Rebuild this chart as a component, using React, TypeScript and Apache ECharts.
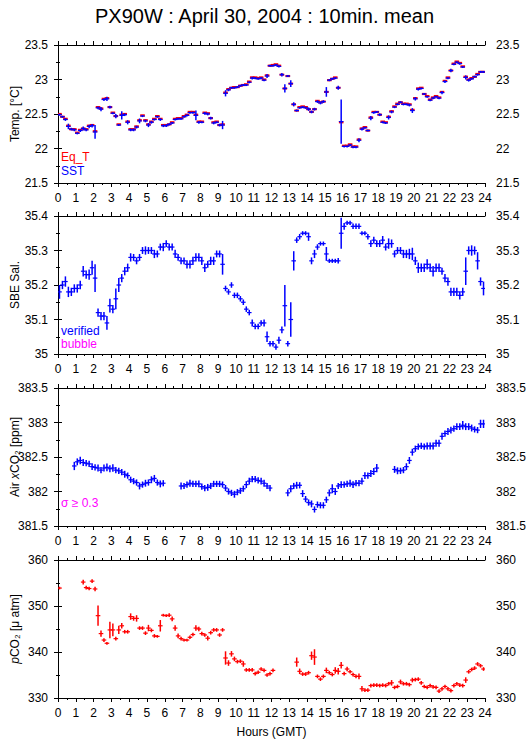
import React, { useEffect, useRef } from 'react';
import * as echarts from 'echarts';

const TITLE = 'PX90W : April 30, 2004 : 10min. mean';

// 10-minute means, index i covers hour i/6 .. (i+1)/6
const sst = [
  22.49, 22.46, 22.42, 22.32, 22.28, 22.27, 22.22, 22.26, 22.29, 22.27, 22.32, 22.33,
  22.24, 22.59, 22.57, 22.71, 22.72, 22.60, 22.51, 22.47, 22.34, 22.48, 22.49, 22.38,
  22.27, 22.27, 22.31, 22.40, 22.47, 22.40, 22.34, 22.38, 22.42, 22.46, 22.42, 22.33,
  22.33, 22.35, 22.37, 22.42, 22.43, 22.43, 22.46, 22.48, 22.52, 22.52, 22.48, 22.38,
  22.38, 22.51, 22.50, 22.44, 22.37, 22.38, 22.34, 22.34, 22.80, 22.85, 22.88, 22.88,
  22.89, 22.91, 22.92, 22.92, 22.96, 23.02, 23.02, 23.01, 23.02, 22.99, 23.05,
  23.20, 23.20, 23.21, 23.19, 23.07, 22.87, 23.05, 22.94, 22.64, 22.55, 22.59, 22.60,
  22.59, 22.57, 22.53, 22.57, 22.68, 22.66, 22.68, 22.82, 22.99, 23.01, 23.02, 22.88,
  22.39, 22.03, 22.03, 22.05, 22.02, 22.02, 22.12, 22.28, 22.30, 22.26, 22.44, 22.52,
  22.53, 22.49, 22.38, 22.37, 22.45, 22.53, 22.60, 22.64, 22.67, 22.64, 22.64, 22.63,
  22.55, 22.72, 22.86, 22.87, 22.79, 22.75, 22.70, 22.73, 22.75, 22.73, 22.81, 22.97,
  23.02, 23.13, 23.22, 23.25, 23.23, 23.18, 23.03, 22.99, 23.01, 23.04, 23.07, 23.11, 23.11,
];
const sstSd = [
  0.015, 0.015, 0.02, 0.04, 0.02, 0.02, 0.015, 0.02, 0.03, 0.02, 0.025, 0.025,
  0.1, 0.02, 0.03, 0.02, 0.03, 0.02, 0.015, 0.03, 0.015, 0.06, 0.02, 0.03,
  0.02, 0.02, 0.02, 0.035, 0.015, 0.02, 0.03, 0.02, 0.015, 0.015, 0.02, 0.02,
  0.02, 0.015, 0.015, 0.015, 0.015, 0.015, 0.015, 0.015, 0.015, 0.015, 0.07, 0.02,
  0.015, 0.02, 0.02, 0.02, 0.02, 0.015, 0.02, 0.06, 0.045, 0.02, 0.015, 0.015,
  0.015, 0.015, 0.015, 0.015, 0.015, 0.02, 0.015, 0.015, 0.015, 0.015, 0.03,
  0.015, 0.015, 0.015, 0.015, 0.025, 0.06, 0.015, 0.05, 0.03, 0.015, 0.015, 0.015,
  0.015, 0.025, 0.02, 0.02, 0.02, 0.02, 0.02, 0.07, 0.015, 0.015, 0.015, 0.03,
  0.32, 0.015, 0.015, 0.015, 0.015, 0.015, 0.03, 0.02, 0.015, 0.015, 0.03, 0.015,
  0.015, 0.02, 0.015, 0.015, 0.03, 0.02, 0.015, 0.015, 0.015, 0.015, 0.015, 0.02,
  0.035, 0.025, 0.02, 0.015, 0.015, 0.015, 0.015, 0.015, 0.015, 0.015, 0.025, 0.02,
  0.015, 0.025, 0.015, 0.015, 0.015, 0.015, 0.03, 0.02, 0.015, 0.015, 0.015, 0.015, 0.015,
];
const eqT = [
  22.50, 22.46, 22.43, 22.33, 22.28, 22.28, 22.23, 22.27, 22.29, 22.28, 22.33, 22.34,
  22.25, 22.60, 22.58, 22.72, 22.73, 22.60, 22.52, 22.47, 22.35, 22.49, 22.50, 22.39,
  22.28, 22.28, 22.32, 22.41, 22.48, 22.41, 22.35, 22.39, 22.43, 22.47, 22.43, 22.34,
  22.34, 22.35, 22.38, 22.43, 22.44, 22.44, 22.47, 22.49, 22.53, 22.53, 22.49, 22.39,
  22.39, 22.52, 22.51, 22.44, 22.38, 22.39, 22.34, 22.35, 22.81, 22.86, 22.88, 22.89,
  22.89, 22.91, 22.92, 22.93, 22.97, 23.03, 23.03, 23.02, 23.03, 23.00, 23.06,
  23.20, 23.21, 23.22, 23.20, 23.07, 22.87, 23.05, 22.94, 22.64, 22.55, 22.60, 22.61,
  22.60, 22.57, 22.53, 22.57, 22.69, 22.67, 22.68, 22.82, 22.99, 23.01, 23.03, 22.88,
  22.38, 22.04, 22.04, 22.06, 22.03, 22.03, 22.13, 22.29, 22.31, 22.26, 22.45, 22.53,
  22.53, 22.49, 22.39, 22.38, 22.46, 22.54, 22.61, 22.65, 22.67, 22.65, 22.65, 22.64,
  22.56, 22.73, 22.87, 22.88, 22.79, 22.76, 22.71, 22.74, 22.76, 22.74, 22.82, 22.98,
  23.03, 23.13, 23.23, 23.26, 23.24, 23.19, 23.04, 23.00, 23.02, 23.04, 23.08, 23.11, 23.11,
];

const salinity = [
  35.18, 35.20, 35.21, 35.18, 35.18, 35.19, 35.19, 35.20, 35.24, 35.23, 35.23, 35.25,
  35.22, 35.12, 35.11, 35.11, 35.09, 35.14, 35.13, 35.16, 35.20, 35.22, 35.24, 35.25,
  35.28, 35.28, 35.27, 35.28, 35.30, 35.30, 35.30, 35.30, 35.29, 35.29, 35.31, 35.31,
  35.32, 35.31, 35.31, 35.29, 35.28, 35.27, 35.27, 35.26, 35.26, 35.27, 35.28, 35.28,
  35.27, 35.25, 35.26, 35.27, 35.27, 35.29, 35.29, 35.26, 35.19, 35.18, 35.20, 35.17,
  35.17, 35.16, 35.15, 35.13, 35.12, 35.09, 35.08, 35.08, 35.09, 35.09, 35.05, 35.03,
  35.03, 35.02, 35.04, 35.07, 35.14, 35.03, 35.10, 35.27, 35.33, 35.34, 35.35, 35.35,
  35.34, 35.27, 35.29, 35.31, 35.32, 35.32, 35.29, 35.27, 35.27, 35.27, 35.27, 35.35,
  35.37, 35.38, 35.38, 35.37, 35.37, 35.37, 35.35, 35.35, 35.34, 35.32, 35.33, 35.32,
  35.32, 35.33, 35.31, 35.32, 35.32, 35.29, 35.30, 35.30, 35.29, 35.29, 35.29, 35.29,
  35.27, 35.25, 35.25, 35.25, 35.26, 35.25, 35.24, 35.25, 35.25, 35.24, 35.22, 35.21,
  35.18, 35.18, 35.18, 35.17, 35.18, 35.24, 35.30, 35.30, 35.30, 35.27, 35.21, 35.19,
];
const salinitySd = [
  0.02, 0.012, 0.015, 0.015, 0.012, 0.012, 0.012, 0.012, 0.015, 0.012, 0.015, 0.02,
  0.04, 0.012, 0.012, 0.012, 0.02, 0.02, 0.012, 0.03, 0.02, 0.012, 0.012, 0.012,
  0.012, 0.01, 0.01, 0.01, 0.01, 0.012, 0.01, 0.01, 0.012, 0.01, 0.01, 0.012,
  0.01, 0.01, 0.01, 0.012, 0.01, 0.01, 0.01, 0.012, 0.012, 0.012, 0.012, 0.012,
  0.012, 0.012, 0.01, 0.012, 0.012, 0.01, 0.01, 0.03, 0.008, 0.008, 0.008, 0.008,
  0.008, 0.008, 0.008, 0.008, 0.008, 0.01, 0.008, 0.008, 0.008, 0.01, 0.015, 0.008,
  0.008, 0.008, 0.01, 0.01, 0.06, 0.008, 0.05, 0.028, 0.008, 0.008, 0.006, 0.006,
  0.012, 0.01, 0.012, 0.008, 0.006, 0.006, 0.02, 0.006, 0.006, 0.006, 0.008, 0.045,
  0.01, 0.006, 0.006, 0.008, 0.008, 0.008, 0.006, 0.006, 0.008, 0.01, 0.01, 0.01,
  0.01, 0.012, 0.01, 0.015, 0.012, 0.01, 0.01, 0.01, 0.012, 0.012, 0.015, 0.018,
  0.012, 0.015, 0.012, 0.012, 0.015, 0.012, 0.015, 0.012, 0.012, 0.01, 0.012, 0.012,
  0.012, 0.012, 0.012, 0.012, 0.012, 0.04, 0.012, 0.015, 0.012, 0.025, 0.012, 0.02,
];

const airXco2 = [
  null, null, null, null, null,
  382.37, 382.43, 382.45, 382.42, 382.41, 382.40, 382.36, 382.35, 382.34, 382.31, 382.34, 382.35,
  382.33, 382.34, 382.31, 382.30, 382.28, 382.25, 382.23, 382.17, 382.15, 382.13, 382.08, 382.10,
  382.12, 382.13, 382.17, 382.19, 382.13, 382.11, 382.12,
  null, null, null, null, null,
  382.08, 382.08, 382.10, 382.12, 382.11, 382.11, 382.11, 382.07, 382.05, 382.06, 382.08, 382.11,
  382.11, 382.11, 382.10, 382.05, 382.00, 381.98, 381.96, 381.99, 382.01, 382.04, 382.10, 382.15,
  382.18, 382.18, 382.16, 382.15, 382.12, 382.08, 382.05,
  null, null, null, null, null,
  381.98, 382.04, 382.08, 382.09, 382.09, 381.97, 381.89, 381.84, 381.82, 381.74, 381.81, 381.80,
  381.80, 381.88, 381.98, 382.04, 382.00, 382.08, 382.10, 382.10, 382.11, 382.12, 382.10, 382.12,
  382.12, 382.15, 382.23, 382.23, 382.26, 382.29, 382.34,
  null, null, null, null, null,
  382.32, 382.30, 382.30, 382.31, 382.36, 382.45, 382.57, 382.62, 382.65, 382.66, 382.65, 382.66,
  382.66, 382.66, 382.70, 382.70, 382.80, 382.84, 382.87, 382.89, 382.91, 382.94, 382.94, 382.96,
  382.94, 382.94, 382.92, 382.90, 382.89, 382.98, 382.98,
];
const airXco2Sd = [
  0, 0, 0, 0, 0,
  0.06, 0.05, 0.055, 0.05, 0.045, 0.045, 0.05, 0.045, 0.05, 0.045, 0.05, 0.055,
  0.05, 0.055, 0.045, 0.045, 0.045, 0.05, 0.045, 0.045, 0.045, 0.045, 0.05, 0.045,
  0.05, 0.045, 0.05, 0.05, 0.045, 0.05, 0.045,
  0, 0, 0, 0, 0,
  0.05, 0.045, 0.045, 0.05, 0.045, 0.045, 0.05, 0.045, 0.045, 0.05, 0.045, 0.045,
  0.045, 0.045, 0.045, 0.045, 0.045, 0.045, 0.05, 0.045, 0.045, 0.045, 0.05, 0.05,
  0.045, 0.045, 0.045, 0.05, 0.05, 0.045, 0.045,
  0, 0, 0, 0, 0,
  0.05, 0.05, 0.045, 0.05, 0.045, 0.05, 0.045, 0.045, 0.05, 0.045, 0.045, 0.045,
  0.045, 0.045, 0.05, 0.065, 0.05, 0.045, 0.05, 0.045, 0.045, 0.05, 0.05, 0.045,
  0.045, 0.05, 0.05, 0.045, 0.05, 0.05, 0.06,
  0, 0, 0, 0, 0,
  0.05, 0.05, 0.045, 0.045, 0.05, 0.05, 0.05, 0.045, 0.045, 0.045, 0.045, 0.05,
  0.05, 0.05, 0.05, 0.05, 0.05, 0.045, 0.05, 0.05, 0.045, 0.05, 0.05, 0.06,
  0.05, 0.05, 0.05, 0.045, 0.045, 0.06, 0.06,
];

const pco2 = [
  353.9,
  null, null, null, null, null, null, null,
  355.2, 354.0, 353.8, 355.4, 353.7, 347.9, 344.0, 342.6, 341.9, 344.8, 344.8, 342.9,
  344.8, 345.7, 344.4, 344.4, 347.7, 347.3, 347.3, 345.2, 345.2, 344.1, 345.2, 344.7,
  343.5, 343.4, 345.7, 348.0, 347.9, 348.0, 347.2, 345.2, 343.5, 342.9, 342.6, 342.6,
  343.2, 343.8, 345.2, 345.0, 344.0, 343.7, 343.0, 344.2, 344.8, 344.8, 343.7, 344.8,
  338.7, 337.6, 339.6, 338.5, 337.9, 338.0, 337.4, 336.1, 336.1, 336.1, 335.3, 335.6,
  336.3, 336.0, 335.0, 335.3, 336.0,
  null, null, null, null, null, null, null,
  337.8, 335.8, 335.2, 335.2, 335.5, 339.2, 338.9, 334.7, 334.1, 334.7, 336.0, 335.5,
  335.1, 336.0, 335.8, 337.1, 335.3, 336.3, 335.7, 335.1, 334.7, 334.7, 332.0, 331.7,
  331.7, 332.7, 332.8, 332.8, 332.7, 332.8, 332.7, 333.1, 333.3, 332.3, 332.5, 333.5,
  333.1, 333.1, 332.9, 333.9, 334.0, 334.1, 333.3, 332.5, 332.3, 332.7, 332.4, 332.3,
  331.5, 332.0, 332.5, 332.0, 331.6, 332.7, 333.1, 332.8, 332.7, 333.9, 335.7, 336.2,
  336.5, 337.4, 337.0, 336.3,
];
const pco2Sd = [
  0.3,
  0, 0, 0, 0, 0, 0, 0,
  0.5, 0.4, 0.4, 0.4, 0.5, 2.2, 0.7, 0.4, 0.3, 1.8, 1.4, 0.4,
  0.9, 0.6, 0.4, 0.4, 0.7, 0.5, 0.7, 0.4, 0.4, 0.4, 0.7, 0.4,
  0.4, 0.3, 1.25, 0.3, 0.3, 0.4, 0.5, 0.6, 0.5, 0.4, 0.3, 0.3,
  0.4, 0.4, 0.6, 0.5, 0.4, 0.4, 0.5, 0.4, 0.4, 0.4, 0.4, 0.4,
  1.45, 0.6, 0.6, 0.5, 0.4, 0.4, 0.6, 0.4, 0.4, 0.4, 0.4, 0.4,
  0.4, 0.4, 0.4, 0.4, 0.4,
  0, 0, 0, 0, 0, 0, 0,
  1.0, 0.6, 0.4, 0.4, 0.4, 0.9, 1.7, 0.4, 0.4, 0.4, 0.6, 0.4,
  0.4, 0.7, 0.7, 0.7, 0.4, 0.5, 0.4, 0.4, 0.4, 0.6, 0.6, 0.4,
  0.4, 0.4, 0.4, 0.4, 0.4, 0.4, 0.4, 0.4, 0.6, 0.4, 0.4, 0.5,
  0.4, 0.4, 0.4, 0.5, 0.4, 0.4, 0.4, 0.4, 0.4, 0.4, 0.4, 0.4,
  0.4, 0.4, 0.4, 0.4, 0.4, 0.4, 0.4, 0.4, 0.4, 0.6, 0.4, 0.4,
  0.4, 0.4, 0.4, 0.4,
];

const hourTicks = { min: 0, max: 24, interval: 1 };
const tempAxis = { min: 21.5, max: 23.5, interval: 0.5 };
const salAxis = { min: 35.0, max: 35.4, interval: 0.1 };
const xco2Axis = { min: 381.5, max: 383.5, interval: 0.5 };
const pco2Axis = { min: 330, max: 360, interval: 10 };

const RED = '#ff0000';
const BLUE = '#0000ff';
const MAGENTA = '#ff00ff';
const FONT = '"Liberation Sans", Arial, Helvetica, sans-serif';

const HALF = 1 / 12;
const BAR_HALF_PX = 2.3;

function toPoints(vals: (number | null)[], sds: number[]) {
  const out: number[][] = [];
  vals.forEach((v, i) => {
    if (v === null || v === undefined) return;
    out.push([i / 6 + HALF, v, sds[i] ?? 0]);
  });
  return out;
}

function crossRender(color: string, lw: number, withVertical: boolean) {
  return (params: any, api: any) => {
    const t = api.value(0);
    const v = api.value(1);
    const e = api.value(2);
    const c = api.coord([t, v]);
    const children: any[] = [
      {
        type: 'line',
        shape: { x1: c[0] - BAR_HALF_PX, y1: c[1], x2: c[0] + BAR_HALF_PX, y2: c[1] },
        style: { stroke: color, lineWidth: lw },
      },
    ];
    if (withVertical) {
      const top = api.coord([t, v + e]);
      const bot = api.coord([t, v - e]);
      children.push({
        type: 'line',
        shape: { x1: c[0], y1: top[1], x2: c[0], y2: bot[1] },
        style: { stroke: color, lineWidth: 1.5 },
      });
    }
    return { type: 'group', children };
  };
}

const GRID_TOPS = [45, 216, 388, 560];
const GRID_H = 138;
const GRID_LEFT = 58;
const GRID_RIGHT = 44;

export default function App() {
  const ref = useRef<HTMLDivElement>(null);
  useEffect(() => {
    if (!ref.current) return;
    const chart = echarts.init(ref.current, undefined, { renderer: 'svg' });

    const lineStyle = { color: '#000', width: 1 };
    const labelStyle = { color: '#000', fontSize: 12, fontFamily: FONT };

    const grids = GRID_TOPS.map((top) => ({
      left: GRID_LEFT,
      right: GRID_RIGHT,
      top,
      height: GRID_H,
      containLabel: false,
      outerBoundsMode: 'none',
      show: false,
    }));

    const xAxes: any[] = [];
    GRID_TOPS.forEach((_, k) => {
      const base = {
        type: 'value',
        gridIndex: k,
        ...hourTicks,
        axisLine: { show: true, lineStyle },
        axisTick: { show: true, inside: false, length: 4, lineStyle },
        minorTick: { show: true, splitNumber: 2, length: 2, lineStyle },
        splitLine: { show: false },
        minorSplitLine: { show: false },
      };
      xAxes.push({
        ...base,
        position: 'bottom',
        axisLabel: { ...labelStyle, interval: 0, margin: 9, showMinLabel: true, showMaxLabel: true },
        ...(k === 3
          ? {
              name: 'Hours (GMT)',
              nameLocation: 'middle',
              nameGap: 28,
              nameMoveOverlap: false,
              nameTextStyle: { color: '#000', fontSize: 12, fontFamily: FONT },
            }
          : {}),
      });
      xAxes.push({ ...base, position: 'top', axisLabel: { show: false } });
    });

    const yDefs = [
      { ...tempAxis, name: 'Temp. [°C]' },
      { ...salAxis, name: 'SBE Sal.' },
      { ...xco2Axis, name: 'Air {i|x}CO₂ [ppm]' },
      { ...pco2Axis, name: '{i|p}CO₂ [μ atm]' },
    ];
    const yAxes: any[] = [];
    yDefs.forEach((d, k) => {
      const base = {
        type: 'value',
        gridIndex: k,
        min: d.min,
        max: d.max,
        interval: d.interval,
        axisLine: { show: true, lineStyle },
        axisTick: { show: true, inside: false, length: 4, lineStyle },
        minorTick: { show: true, splitNumber: 2, length: 2, lineStyle },
        splitLine: { show: false },
        minorSplitLine: { show: false },
      };
      yAxes.push({
        ...base,
        position: 'left',
        axisLabel: { ...labelStyle, margin: 10, showMinLabel: true, showMaxLabel: true },
        name: d.name,
        nameLocation: 'middle',
        nameGap: 37,
        nameMoveOverlap: false,
        nameTextStyle: {
          color: '#000',
          fontSize: 12,
          fontFamily: FONT,
          rich: { i: { fontStyle: 'italic', fontSize: 12, fontFamily: FONT, color: '#000' } },
        },
      });
      yAxes.push({
        ...base,
        position: 'right',
        axisLabel: { ...labelStyle, margin: 11, showMinLabel: true, showMaxLabel: true },
      });
    });

    const mkSeries = (
      k: number,
      name: string,
      data: number[][],
      color: string,
      lw: number,
      vertical: boolean
    ) => ({
      type: 'custom',
      name,
      xAxisIndex: 2 * k,
      yAxisIndex: 2 * k,
      clip: true,
      data,
      renderItem: crossRender(color, lw, vertical),
      silent: true,
    });

    const textEl = (x: number, y: number, text: string, color: string) => ({
      type: 'text',
      left: x,
      top: y,
      style: { text, fill: color, fontSize: 12, fontFamily: FONT },
    });

    chart.setOption({
      animation: false,
      backgroundColor: '#fff',
      title: {
        text: TITLE,
        left: 'center',
        top: 1,
        textStyle: { color: '#000', fontSize: 20, fontWeight: 'normal', fontFamily: FONT },
      },
      grid: grids,
      xAxis: xAxes,
      yAxis: yAxes,
      series: [
        mkSeries(0, 'Eq_T', toPoints(eqT, eqT.map(() => 0)), RED, 2.2, false),
        mkSeries(0, 'SST', toPoints(sst, sstSd), BLUE, 1.2, true),
        mkSeries(1, 'verified', toPoints(salinity, salinitySd), BLUE, 1.2, true),
        mkSeries(2, 'Air xCO2', toPoints(airXco2, airXco2Sd), BLUE, 1.2, true),
        mkSeries(3, 'pCO2', toPoints(pco2, pco2Sd), RED, 1.2, true),
      ],
      graphic: [
        textEl(61, 151, 'Eq_T', RED),
        textEl(61, 165, 'SST', BLUE),
        textEl(61, 325, 'verified', BLUE),
        textEl(61, 338, 'bubble', MAGENTA),
        textEl(61, 497, 'σ ≥ 0.3', MAGENTA),
      ],
    });

    return () => chart.dispose();
  }, []);

  return (
    <div
      ref={ref}
      style={{ position: 'absolute', left: 0, top: 0, width: 529, height: 739, background: '#fff' }}
    />
  );
}
